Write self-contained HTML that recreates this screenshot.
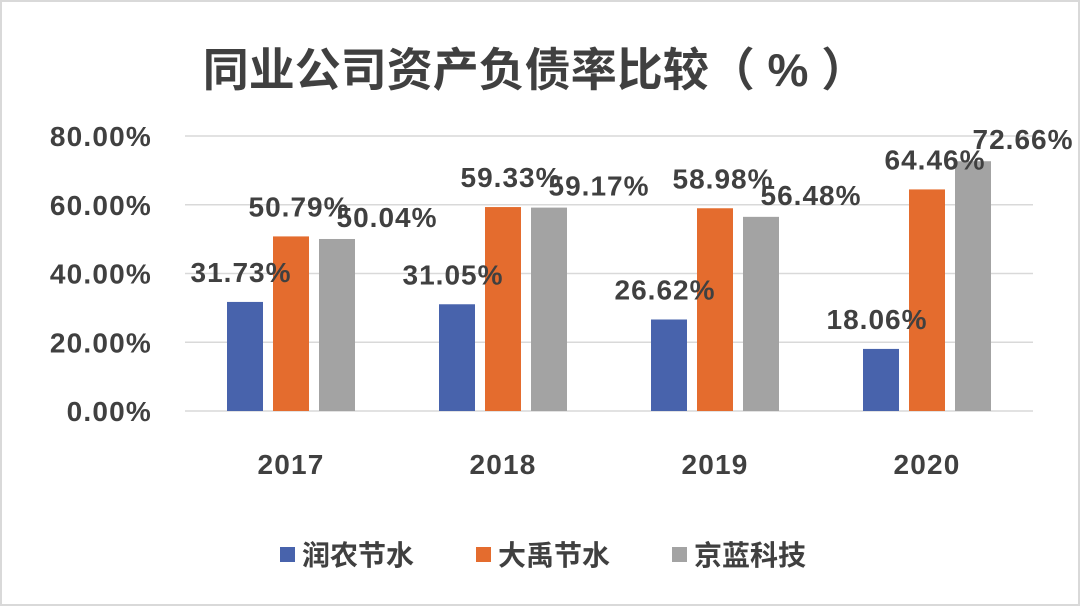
<!DOCTYPE html>
<html><head><meta charset="utf-8"><style>
html,body{margin:0;padding:0;background:#fff;}
svg{display:block;font-family:"Liberation Sans","Noto Sans CJK SC",sans-serif;font-weight:bold;}
</style></head><body>
<svg id="chart" width="1080" height="606" viewBox="0 0 1080 606">
<rect x="1" y="1" width="1078" height="604" fill="#fff" stroke="#d9d9d9" stroke-width="2"/>
<text x="535" y="86" text-anchor="middle" font-size="46" fill="#404040">同业公司资产负债率比较（ % ）</text>
<g id="grid"></g><g id="bars"></g><g id="labels"></g>
<g font-size="28" fill="#404040">
<rect x="280" y="547" width="15" height="15" fill="#4863AC"/>
<text x="302" y="565">润农节水</text>
<rect x="476" y="547" width="15" height="15" fill="#E46C2E"/>
<text x="498" y="565">大禹节水</text>
<rect x="672" y="547" width="15" height="15" fill="#A3A3A3"/>
<text x="694" y="565">京蓝科技</text>
</g>
</svg>
<script>
const categories = ["2017","2018","2019","2020"];
const runnong = [31.73, 31.05, 26.62, 18.06];
const dayu = [50.79, 59.33, 58.98, 64.46];
const jinglan = [50.04, 59.17, 56.48, 72.66];
const yTicks = [0, 20, 40, 60, 80];
const yTickLabels = ["0.00%","20.00%","40.00%","60.00%","80.00%"];

const NS = "http://www.w3.org/2000/svg";
const x0 = 185, x1 = 1033, y0 = 411, yTop = 136;
const y = v => y0 - (v / 80) * (y0 - yTop);
const band = (x1 - x0) / categories.length;
const xc = i => x0 + band * (i + 0.5);
function mk(tag, attrs, parent) {
  const e = document.createElementNS(NS, tag);
  for (const k in attrs) e.setAttribute(k, attrs[k]);
  parent.appendChild(e); return e;
}
const grid = document.getElementById('grid');
yTicks.forEach((t, i) => {
  const l = mk('line', {x1: x0, x2: x1, y1: y(t), y2: y(t), stroke: '#d9d9d9', 'stroke-width': 1.5}, grid);
  
  
  const tx = mk('text', {x: 152, y: y(t) + 10, 'text-anchor': 'end', 'font-size': 28, 'letter-spacing': 1.2, fill: '#404040'}, grid);
  tx.textContent = yTickLabels[i];
  
  
});
categories.forEach((c, i) => {
  const tx = mk('text', {x: xc(i), y: 474, 'text-anchor': 'middle', 'font-size': 28, 'letter-spacing': 1.2, fill: '#404040'}, grid);
  tx.textContent = c;
  
  
});
const series = [
  {name: 'runnong', data: runnong, color: '#4863AC', off: -46, dx: -4, dy: -20},
  {name: 'dayu', data: dayu, color: '#E46C2E', off: 0, dx: 8, dy: -20},
  {name: 'jinglan', data: jinglan, color: '#A3A3A3', off: 46, dx: 50, dy: -12}
];
const bw = 36;
const bars = document.getElementById('bars'), labels = document.getElementById('labels');
series.forEach(s => {
  s.data.forEach((v, i) => {
    const cx = xc(i) + s.off;
    const r = mk('rect', {x: cx - bw / 2, y: y(v), width: bw, height: y0 - y(v), fill: s.color}, bars);
    
    
    const t = mk('text', {x: cx + s.dx, y: y(v) + s.dy, 'text-anchor': 'middle', 'font-size': 28, 'letter-spacing': 1, fill: '#404040'}, labels);
    t.textContent = v.toFixed(2) + '%';
    
    
  });
});
</script>
</body></html>
